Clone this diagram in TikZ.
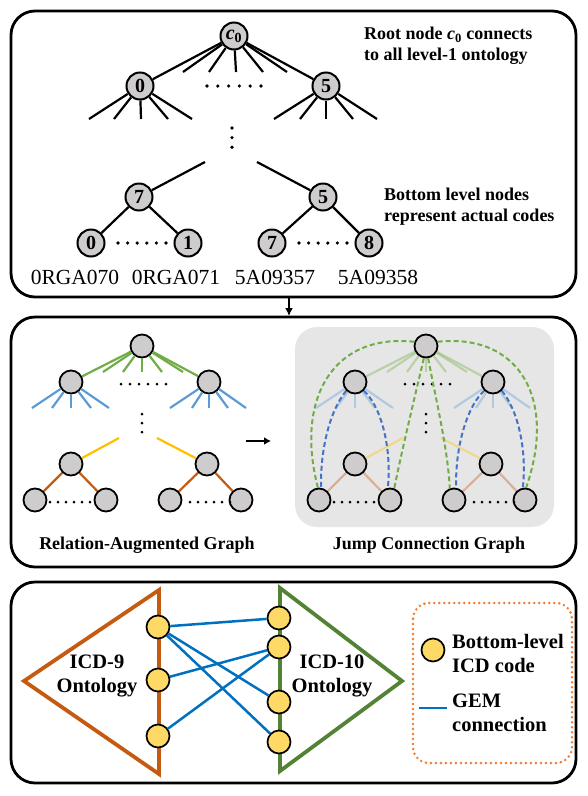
\documentclass[tikz,border=0pt]{standalone}
\usepackage{fontspec}
\setmainfont{Liberation Serif}
\usetikzlibrary{arrows.meta}
\definecolor{nodegray}{RGB}{206, 204, 204}
\definecolor{boxgray}{RGB}{231, 230, 230}
\definecolor{grass}{RGB}{112, 173, 71}
\definecolor{sky}{RGB}{91, 155, 213}
\definecolor{amber}{RGB}{255, 192, 0}
\definecolor{rust}{RGB}{197, 90, 17}
\definecolor{royal}{RGB}{68, 114, 196}
\definecolor{forest}{RGB}{84, 130, 53}
\definecolor{ocean}{RGB}{0, 112, 192}
\definecolor{butter}{RGB}{255, 217, 102}
\definecolor{tangerine}{RGB}{237, 125, 49}

\tikzset{
    frame/.style={line width=2.8pt, rounded corners=24pt},
    treenode/.style={circle, draw, line width=2pt, fill=nodegray, minimum size=27pt, inner sep=0pt,
                     font=\bfseries\fontsize{20}{20}\selectfont},
    graphnode/.style={circle, draw, line width=1.8pt, fill=nodegray, minimum size=23pt, inner sep=0pt},
    codenode/.style={circle, draw, line width=1.7pt, fill=butter, minimum size=23pt, inner sep=0pt},
    branch/.style={line width=2.2pt},
    dotrow/.style={line width=3.6pt, line cap=round, dash pattern=on 0pt off 9.6pt},
    jump/.style={line width=2pt, dash pattern=on 5pt off 3pt},
    gem/.style={ocean, line width=2.5pt},
    boldtext/.style={font=\bfseries\fontsize{18}{21}\selectfont, align=left, inner sep=0pt},
    bigtext/.style={font=\bfseries\fontsize{20.5}{24}\selectfont, align=center, inner sep=0pt},
    codetext/.style={font=\fontsize{21.5}{21.5}\selectfont, inner sep=0pt}
}

\begin{document}
\begin{tikzpicture}[x=1pt, y=-1pt]
    \useasboundingbox (0,0) rectangle (587,796);

    % ---- panel 1: ontology tree
    \draw[frame] (11,11) rectangle (576,297);
    \node[treenode] (c0) at (234,36) {\textit{c}\textsubscript{0}};
    \node[treenode] (l0) at (140,86) {0};
    \node[treenode] (l5) at (326,86) {5};
    \draw[branch] (c0) -- (l0);
    \draw[branch] (c0) -- (l5);
    \foreach \x [count=\i] in {183,209,236,263,287}
        {\coordinate (ct\i) at (\x,72); \draw[branch] (c0) -- (ct\i);}
    \foreach \x [count=\i] in {89,114,141,168,192}
        {\coordinate (lz\i) at (\x,119); \draw[branch] (l0) -- (lz\i);}
    \foreach \x [count=\i] in {274,300,326,353,377}
        {\coordinate (lf\i) at (\x,119); \draw[branch] (l5) -- (lf\i);}
    \draw[dotrow, dash pattern=on 0pt off 10.8pt] (207,86) -- (261.5,86);
    \draw[dotrow] (232,128) -- (232,148);

    \coordinate (ml) at (205,162);
    \coordinate (mr) at (257,162);
    \node[treenode] (m7) at (139,197) {7};
    \node[treenode] (m5) at (323,197) {5};
    \draw[branch] (ml) -- (m7);
    \draw[branch] (mr) -- (m5);
    \node[treenode] (b0) at (91,243) {0};
    \node[treenode] (b1) at (188,243) {1};
    \node[treenode] (b7) at (272,243) {7};
    \node[treenode] (b8) at (369,243) {8};
    \draw[branch] (m7) -- (b0);
    \draw[branch] (m7) -- (b1);
    \draw[branch] (m5) -- (b7);
    \draw[branch] (m5) -- (b8);
    \draw[dotrow] (118,243) -- (166.5,243);
    \draw[dotrow] (299,243) -- (347.5,243);

    \node[codetext] (k70) at (75,277) {0RGA070};
    \node[codetext] (k71) at (176,277) {0RGA071};
    \node[codetext] (k57) at (275,277) {5A09357};
    \node[codetext] (k58) at (378,277) {5A09358};

    \node[boldtext, anchor=west] (roottxt) at (364,46)
        {Root node \textit{c}\textsubscript{0} connects\\to all level-1 ontology};
    \node[boldtext, anchor=west] (bottxt) at (384,207)
        {Bottom level nodes\\represent actual codes};

    \coordinate (arrtop) at (289,298);
    \coordinate (arrend) at (289,316);
    \draw[line width=1.6pt, -{Latex[length=8pt, width=8pt]}] (arrtop) -- (arrend);

    % ---- panel 2: relation-augmented and jump connection graphs
    \draw[frame] (11,317) rectangle (576,567);
    \fill[boxgray, rounded corners=22pt] (295,327) rectangle (554,527);

    \foreach \dx/\op/\g in {0/1/ra, 284/0.38/jc} {
        \begin{scope}[xshift=\dx pt]
            \node[graphnode] (\g-r) at (142,346) {};
            \node[graphnode] (\g-a) at (71,382) {};
            \node[graphnode] (\g-b) at (209,382) {};
            \node[graphnode] (\g-c) at (71,464) {};
            \node[graphnode] (\g-d) at (207,464) {};
            \node[graphnode] (\g-1) at (35,500) {};
            \node[graphnode] (\g-2) at (106,500) {};
            \node[graphnode] (\g-3) at (170,500) {};
            \node[graphnode] (\g-4) at (241,500) {};
            \draw[branch, grass, draw opacity=\op] (\g-r) -- (\g-a);
            \draw[branch, grass, draw opacity=\op] (\g-r) -- (\g-b);
            \foreach \x [count=\i] in {103,123,142,162,183}
                {\coordinate (\g-rt\i) at (\x,372); \draw[branch, grass, draw opacity=\op] (\g-r) -- (\g-rt\i);}
            \foreach \x [count=\i] in {32,52,71,91,109}
                {\coordinate (\g-at\i) at (\x,408); \draw[branch, sky, draw opacity=\op] (\g-a) -- (\g-at\i);}
            \foreach \x [count=\i] in {170,192,209,228,246}
                {\coordinate (\g-bt\i) at (\x,408); \draw[branch, sky, draw opacity=\op] (\g-b) -- (\g-bt\i);}
            \coordinate (\g-yl) at (119,438);
            \coordinate (\g-yr) at (157,438);
            \draw[branch, amber, draw opacity=\op] (\g-yl) -- (\g-c);
            \draw[branch, amber, draw opacity=\op] (\g-yr) -- (\g-d);
            \draw[branch, rust, draw opacity=\op] (\g-c) -- (\g-1);
            \draw[branch, rust, draw opacity=\op] (\g-c) -- (\g-2);
            \draw[branch, rust, draw opacity=\op] (\g-d) -- (\g-3);
            \draw[branch, rust, draw opacity=\op] (\g-d) -- (\g-4);
            \draw[dotrow, line width=3pt, dash pattern=on 0pt off 9pt] (121,384) -- (166.5,384);
            \draw[dotrow, line width=3pt, dash pattern=on 0pt off 9pt] (142,414) -- (142,433);
            \draw[dotrow, line width=3pt, dash pattern=on 0pt off 8pt] (50,502) -- (90.5,502);
            \draw[dotrow, line width=3pt, dash pattern=on 0pt off 8pt] (190,502) -- (230.5,502);
        \end{scope}
    }

    % jump connections
    \draw[jump, grass] (jc-r.160) .. controls (332,333) and (295,400) .. (jc-1.95);
    \draw[jump, grass] (jc-r.20) .. controls (520,333) and (557,400) .. (jc-4.85);
    \draw[jump, grass] (jc-r.-100) .. controls (414,400) and (402,450) .. (jc-2.70);
    \draw[jump, grass] (jc-r.-80) .. controls (436,400) and (448,450) .. (jc-3.110);
    \draw[jump, royal] (jc-a.225) .. controls (330,410) and (320,450) .. (jc-1.80);
    \draw[jump, royal] (jc-a.-45) .. controls (380,405) and (392,445) .. (jc-2.100);
    \draw[jump, royal] (jc-b.225) .. controls (468,405) and (455,445) .. (jc-3.80);
    \draw[jump, royal] (jc-b.-45) .. controls (518,410) and (527,450) .. (jc-4.100);

    \coordinate (gostart) at (246,441);
    \coordinate (goend) at (271,441);
    \draw[line width=2.4pt, -{Latex[length=7pt, width=8pt]}] (gostart) -- (goend);

    \node[boldtext] (ratxt) at (147,545) {Relation-Augmented Graph};
    \node[boldtext] (jctxt) at (429,545) {Jump Connection Graph};

    % ---- panel 3: ICD-9 / ICD-10 mapping
    \draw[frame] (11,582) rectangle (576,783);
    \draw[rust, line width=3.8pt, line join=miter] (159,590) -- (24,681) -- (159,774) -- cycle;
    \draw[forest, line width=3.8pt, line join=miter] (280,588) -- (402,681) -- (280,771) -- cycle;
    \node[codenode] (n9a) at (158,627) {};
    \node[codenode] (n9b) at (158,680) {};
    \node[codenode] (n9c) at (158,736) {};
    \node[codenode] (n10a) at (279,618) {};
    \node[codenode] (n10b) at (279,647) {};
    \node[codenode] (n10c) at (279,702) {};
    \node[codenode] (n10d) at (279,742) {};
    \draw[gem] (n9a) -- (n10a);
    \draw[gem] (n9a) -- (n10c);
    \draw[gem] (n9a) -- (n10d);
    \draw[gem] (n9b) -- (n10b);
    \draw[gem] (n9c) -- (n10b);
    \node[bigtext] (icd9) at (97,676) {ICD-9\\Ontology};
    \node[bigtext] (icd10) at (332,676) {ICD-10\\Ontology};

    \draw[tangerine, line width=2.8pt, line cap=round, dash pattern=on 0pt off 5pt, rounded corners=16pt]
        (413,603) rectangle (572,763);
    \node[codenode] (keynode) at (433,650) {};
    \coordinate (keyl) at (419,708);
    \coordinate (keyr) at (447,708);
    \draw[gem, line width=2.8pt] (keyl) -- (keyr);
    \node[bigtext, align=left, anchor=west] (keytxt1) at (452,653) {Bottom-level\\ICD code};
    \node[bigtext, align=left, anchor=west] (keytxt2) at (452,713) {GEM\\connection};
\end{tikzpicture}
\end{document}
